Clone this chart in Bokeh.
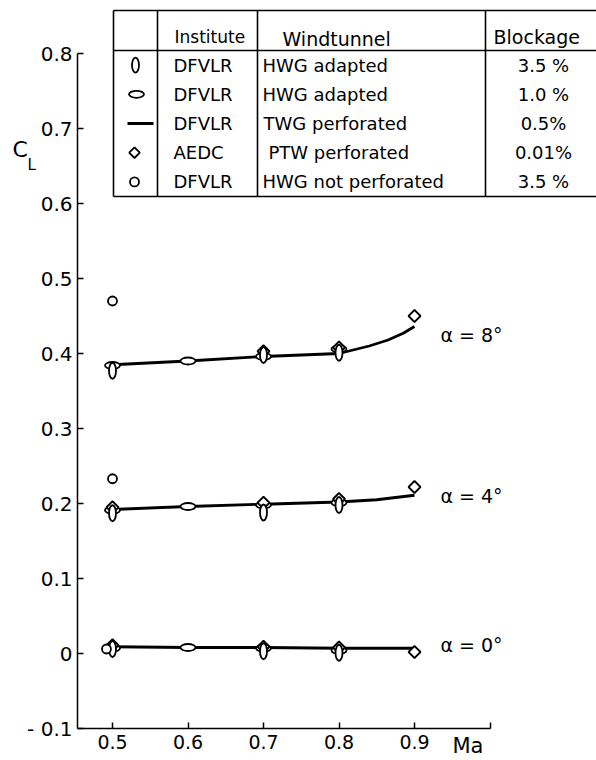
from bokeh.plotting import figure
from bokeh.models import Label, FixedTicker, CustomJSTickFormatter
from bokeh.embed import file_html
from bokeh.resources import INLINE
from bokeh.core.properties import value

FONT = "DejaVu Sans"

# ---------------- data ----------------
# HWG adapted, blockage 3.5 %  (vertical ellipse)
HWG35_MA = [0.5, 0.7, 0.8]
HWG35_A0 = [0.006, 0.003, 0.001]
HWG35_A4 = [0.187, 0.188, 0.198]
HWG35_A8 = [0.377, 0.398, 0.401]

# HWG adapted, blockage 1.0 %  (horizontal ellipse)
HWG10_MA = [0.5, 0.6, 0.7, 0.8]
HWG10_A0 = [0.007, 0.008, 0.007, 0.004]
HWG10_A4 = [0.191, 0.196, 0.198, 0.201]
HWG10_A8 = [0.384, 0.390, 0.396, 0.406]

# TWG perforated, blockage 0.5 %  (line)
TWG_MA_0 = [0.5, 0.6, 0.7, 0.8, 0.9]
TWG_A0 = [0.009, 0.008, 0.008, 0.007, 0.007]
TWG_MA_4 = [0.5, 0.6, 0.7, 0.8, 0.85, 0.9]
TWG_A4 = [0.192, 0.196, 0.199, 0.202, 0.205, 0.211]
TWG_MA_8 = [0.5, 0.6, 0.7, 0.8, 0.84, 0.865, 0.885, 0.9]
TWG_A8 = [0.385, 0.390, 0.396, 0.400, 0.410, 0.418, 0.427, 0.436]

# AEDC PTW perforated, blockage 0.01 %  (diamond)
PTW_MA_0 = [0.5, 0.7, 0.8, 0.9]
PTW_A0 = [0.011, 0.009, 0.008, 0.002]
PTW_MA_4 = [0.5, 0.7, 0.8, 0.9]
PTW_A4 = [0.195, 0.201, 0.206, 0.222]
PTW_MA_8 = [0.7, 0.8, 0.9]
PTW_A8 = [0.403, 0.408, 0.450]

# HWG not perforated, blockage 3.5 %  (circle)
HWGNP_MA = [0.492, 0.5, 0.5]
HWGNP_CL = [0.006, 0.233, 0.470]

ALPHA_LABELS = ["\u03b1 = 0\u00b0", "\u03b1 = 4\u00b0", "\u03b1 = 8\u00b0"]
ALPHA_LABEL_CL = [0.012, 0.210, 0.425]

X_TICKS = [0.5, 0.6, 0.7, 0.8, 0.9]
Y_TICKS = [-0.1, 0, 0.1, 0.2, 0.3, 0.4, 0.5, 0.6, 0.7, 0.8]

TABLE_HEAD = ["Institute", "Windtunnel", "Blockage"]
TABLE_INSTITUTE = ["DFVLR", "DFVLR", "DFVLR", "AEDC", "DFVLR"]
TABLE_TUNNEL = ["HWG adapted", "HWG adapted", "TWG perforated",
                "PTW perforated", "HWG not perforated"]
TABLE_BLOCKAGE = ["3.5 %", "1.0 %", "0.5%", "0.01%", "3.5 %"]

# ---------------- layout ----------------
W, H = 596, 760
AXIS_X_PX, AXIS_Y_PX = 77, 728     # where the axis lines sit
X_REF_PX, Y_REF_PX = 112, 653      # pixel of Ma=0.5 and CL=0
XS, YS = 755.0, 750.0              # pixels per unit

x_start = 0.5 - X_REF_PX / XS
x_end = x_start + W / XS
y_start = 0.0 - (H - Y_REF_PX) / YS
y_end = y_start + H / YS


def dx(px):
    return x_start + px / XS


def dy(py):
    return y_start + (H - py) / YS


p = figure(width=W, height=H, x_range=(x_start, x_end), y_range=(y_start, y_end),
           output_backend="svg", toolbar_location=None,
           min_border_left=0, min_border_right=0, min_border_top=0,
           min_border_bottom=0)
p.outline_line_color = None
p.xgrid.visible = False
p.ygrid.visible = False
p.background_fill_color = "white"
p.border_fill_color = "white"

# axes
xa = p.xaxis[0]
xa.fixed_location = -0.1
xa.bounds = (dx(AXIS_X_PX), 1.0)
xa.ticker = FixedTicker(ticks=X_TICKS, minor_ticks=[1.0])
xa.formatter = CustomJSTickFormatter(code="return tick.toFixed(1);")
xa.major_tick_in = 6
xa.major_tick_out = 0
xa.minor_tick_in = 6
xa.minor_tick_out = 0
xa.major_label_standoff = 6
xa.major_label_text_font = FONT
xa.major_label_text_font_size = "19px"
xa.major_label_text_color = "black"
xa.axis_line_width = 1.5
xa.major_tick_line_width = 1.5
xa.minor_tick_line_width = 1.5

ya = p.yaxis[0]
ya.fixed_location = dx(AXIS_X_PX)
ya.bounds = (-0.1, 0.8)
ya.ticker = FixedTicker(ticks=Y_TICKS)
ya.formatter = CustomJSTickFormatter(
    code="if (Math.abs(tick) < 1e-9) return '0';"
         "if (tick < 0) return '- ' + Math.abs(tick).toFixed(1);"
         "return tick.toFixed(1);")
ya.major_tick_in = 6
ya.major_tick_out = 0
ya.minor_tick_line_color = None
ya.major_label_standoff = 5
ya.major_label_text_font = FONT
ya.major_label_text_font_size = "20px"
ya.major_label_text_color = "black"
ya.axis_line_width = 1.5
ya.major_tick_line_width = 1.5

# lines (TWG perforated)
for mx, cl in [(TWG_MA_0, TWG_A0), (TWG_MA_4, TWG_A4), (TWG_MA_8, TWG_A8)]:
    p.line(mx, cl, line_width=2.8, line_color="black")

mk = dict(fill_color="white", line_color="black", line_width=1.8)

# horizontal ellipses (HWG adapted 1.0 %)
for cl in [HWG10_A0, HWG10_A4, HWG10_A8]:
    p.ellipse(x=HWG10_MA, y=cl, width=15, height=7,
              width_units="screen", height_units="screen", **mk)
# diamonds (AEDC PTW)
for mx, cl in [(PTW_MA_0, PTW_A0), (PTW_MA_4, PTW_A4), (PTW_MA_8, PTW_A8)]:
    p.scatter(mx, cl, marker="square", angle=0.785398, size=8.5, **mk)
# vertical ellipses (HWG adapted 3.5 %)
for cl in [HWG35_A0, HWG35_A4, HWG35_A8]:
    p.ellipse(x=HWG35_MA, y=cl, width=7, height=16,
              width_units="screen", height_units="screen", **mk)
# circles (HWG not perforated)
p.scatter(HWGNP_MA, HWGNP_CL, marker="circle", size=9, **mk)

# alpha labels
p.text(x=[dx(440)] * 3, y=ALPHA_LABEL_CL, text=ALPHA_LABELS,
       text_font=value(FONT), text_font_size="19px", text_color="black",
       text_baseline="middle", text_align="left")

# ---------------- legend table ----------------
T_TOP, T_HEAD, T_BOT = 10, 50, 196
T_COLS = [113, 157, 257, 485]
T_RIGHT = 596
ROW_H = (T_BOT - T_HEAD) / 5.0
rows_py = [T_HEAD + ROW_H * (i + 0.5) for i in range(5)]

hx0 = [dx(T_COLS[0])] * 3
hx1 = [dx(T_RIGHT)] * 3
hy = [dy(T_TOP), dy(T_HEAD), dy(T_BOT)]
p.segment(x0=hx0, y0=hy, x1=hx1, y1=hy, line_color="black", line_width=1.6)
vx = [dx(c) for c in T_COLS]
p.segment(x0=vx, y0=[dy(T_TOP)] * 4, x1=vx, y1=[dy(T_BOT)] * 4,
          line_color="black", line_width=1.6)

# header texts
p.text(x=[dx(174)], y=[dy(36)], text=[TABLE_HEAD[0]], text_font=value(FONT),
       text_font_size="17px", text_baseline="middle", text_align="left")
p.text(x=[dx(282), dx(493)], y=[dy(38), dy(36)], text=TABLE_HEAD[1:],
       text_font=value(FONT), text_font_size="19px", text_baseline="middle",
       text_align="left")

# row texts
inst_x = [dx(173)] * 5
p.text(x=inst_x, y=[dy(v) for v in rows_py], text=TABLE_INSTITUTE,
       text_font=value(FONT), text_font_size="18px", text_baseline="middle",
       text_align="left")
tun_x = [dx(262), dx(262), dx(263), dx(268), dx(262)]
p.text(x=tun_x, y=[dy(v) for v in rows_py], text=TABLE_TUNNEL,
       text_font=value(FONT), text_font_size="18px", text_baseline="middle",
       text_align="left")
p.text(x=[dx(543)] * 5, y=[dy(v) for v in rows_py], text=TABLE_BLOCKAGE,
       text_font=value(FONT), text_font_size="18px", text_baseline="middle",
       text_align="center")

# row symbols
p.ellipse(x=[dx(135)], y=[dy(rows_py[0])], width=7, height=15,
          width_units="screen", height_units="screen", **mk)
p.ellipse(x=[dx(136)], y=[dy(rows_py[1])], width=15, height=7,
          width_units="screen", height_units="screen", **mk)
p.segment(x0=[dx(127)], y0=[dy(rows_py[2])], x1=[dx(153)], y1=[dy(rows_py[2])],
          line_color="black", line_width=2.8)
p.scatter([dx(134)], [dy(rows_py[3])], marker="square", angle=0.785398,
          size=7.5, **mk)
p.scatter([dx(134)], [dy(rows_py[4])], marker="circle", size=9, **mk)

# axis titles
p.add_layout(Label(x=dx(12), y=dy(149), text="C", text_font=FONT,
                   text_font_size="22px", text_baseline="middle",
                   text_align="left", text_color="black"))
p.add_layout(Label(x=dx(27), y=dy(164), text="L", text_font=FONT,
                   text_font_size="15px", text_baseline="middle",
                   text_align="left", text_color="black"))
p.add_layout(Label(x=dx(452), y=dy(745), text="Ma", text_font=FONT,
                   text_font_size="21px", text_baseline="middle",
                   text_align="left", text_color="black"))

open("out.html", "w").write(file_html(p, INLINE))
